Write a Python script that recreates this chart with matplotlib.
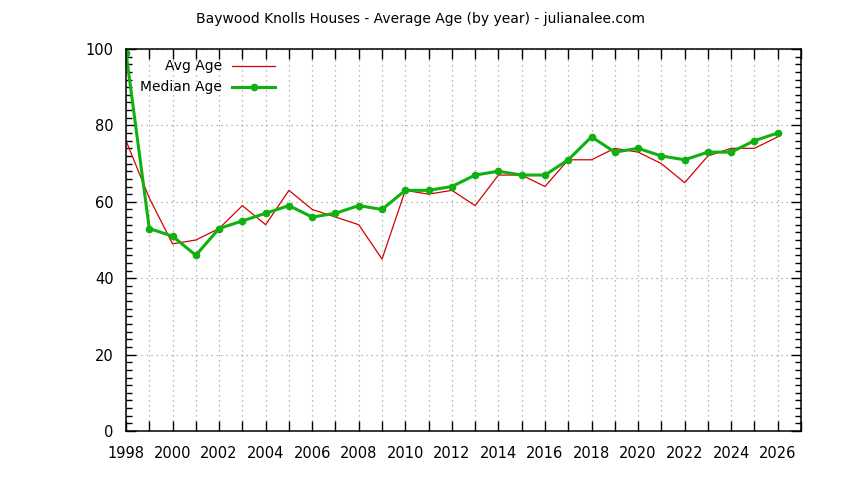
import matplotlib
matplotlib.use("Agg")
import matplotlib.pyplot as plt
from matplotlib.ticker import MultipleLocator, FuncFormatter

# data
years = list(range(1998, 2027))
avg_age = [76, 61, 49, 50, 53, 59, 54, 63, 58, 56, 54, 45, 63, 62, 63, 59,
           67, 67, 64, 71, 71, 74, 73, 70, 65, 72, 74, 74, 77]
median_age = [99, 53, 51, 46, 53, 55, 57, 59, 56, 57, 59, 58, 63, 63, 64, 67,
              68, 67, 67, 71, 77, 73, 74, 72, 71, 73, 73, 76, 78]

red = "#d40000"
green = "#10b010"

fig = plt.figure(figsize=(8.44, 4.8), dpi=100)
ax = fig.add_axes([126 / 844, 1 - 431 / 480, 675 / 844, 382 / 480])

ax.plot(years, avg_age, color=red, lw=0.9)
ax.plot(years, median_age, color=green, lw=2.2, marker="o", ms=4.5)

ax.set_xlim(1998, 2027)
ax.set_ylim(0, 100)

# ticks: labels on even years, a tick every year, y minor every 2
ax.xaxis.set_major_locator(MultipleLocator(1))
ax.xaxis.set_major_formatter(FuncFormatter(lambda v, p: "%d" % v if int(round(v)) % 2 == 0 and v <= 2026 else ""))
ax.yaxis.set_major_locator(MultipleLocator(20))
ax.yaxis.set_minor_locator(MultipleLocator(2))
ax.tick_params(which="both", direction="in", top=True, right=True, labelsize=10.5)
ax.tick_params(which="major", length=7, width=1)
ax.tick_params(which="minor", length=4, width=1)
ax.tick_params(axis="x", pad=11)
ax.tick_params(axis="y", pad=9)

ax.grid(True, which="major", axis="both", color="#a0a0a0", linestyle=(0, (1, 3)), lw=0.9)
for s in ax.spines.values():
    s.set_linewidth(1.1)

# gnuplot-style key: text right-aligned, sample after it
def key(row_y, label, **kw):
    y = 1 - (row_y - 49) / 382
    x0 = (232 - 126) / 675
    x1 = (275 - 126) / 675
    ax.text((222 - 126) / 675, y, label, transform=ax.transAxes, ha="right", va="center", fontsize=10)
    ax.plot([x0, x1], [y, y], transform=ax.transAxes, **kw)
    return y

key(66, "Avg Age", color=red, lw=0.9)
y2 = key(87, "Median Age", color=green, lw=2.2)
ax.plot([(253.5 - 126) / 675], [y2], transform=ax.transAxes, color=green, marker="o", ms=4.5)

fig.text(421 / 844, 1 - 19 / 480, "Baywood Knolls Houses - Average Age (by year) - julianalee.com",
         ha="center", va="center", fontsize=10)

fig.savefig("out.png", dpi=100)
